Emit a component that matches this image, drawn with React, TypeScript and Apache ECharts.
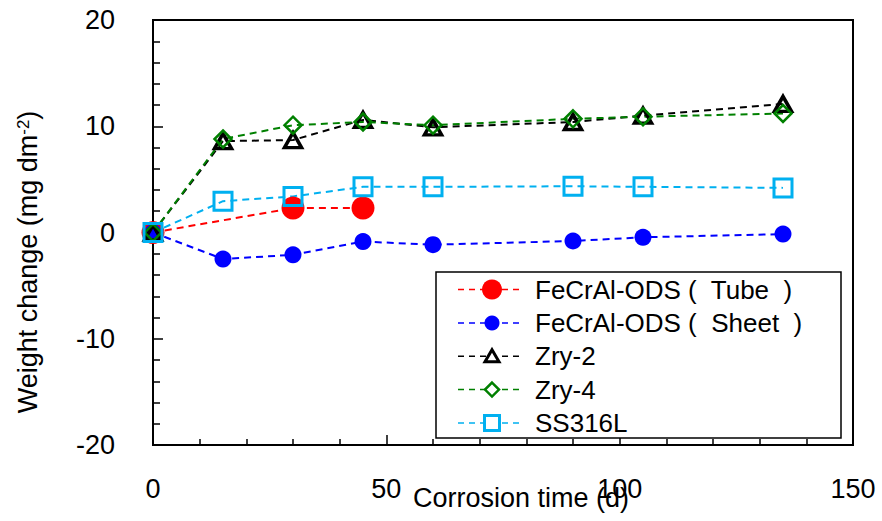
import React, { useEffect, useRef } from "react";
import * as echarts from "echarts";

const seriesNames = [
  "FeCrAl-ODS (  Tube  )",
  "FeCrAl-ODS (  Sheet  )",
  "Zry-2",
  "Zry-4",
  "SS316L",
];
const tubeDays = [0, 30, 45];
const tubeValues = [0, 2.3, 2.3];
const days = [0, 15, 30, 45, 60, 90, 105, 135];
const sheetValues = [0, -2.5, -2.1, -0.85, -1.15, -0.8, -0.45, -0.15];
const zry2Values = [0, 8.6, 8.7, 10.6, 9.9, 10.4, 11.0, 12.1];
const zry4Values = [0, 8.8, 10.1, 10.4, 10.1, 10.7, 10.9, 11.2];
const ss316Values = [0, 2.95, 3.4, 4.3, 4.3, 4.35, 4.3, 4.2];
const xTicks = { min: 0, max: 150, interval: 50 };
const yTicks = { min: -20, max: 20, interval: 10 };

const FONT = "'Liberation Sans', Arial, sans-serif";
const colors = ["#ff0000", "#0000ff", "#000000", "#008000", "#00b0f0"];

function pairs(xs: number[], ys: number[]) {
  return xs.map((x, i) => [x, ys[i]]);
}

export default function App() {
  const ref = useRef<HTMLDivElement>(null);
  useEffect(() => {
    if (!ref.current) return;
    const chart = echarts.init(ref.current, undefined, { renderer: "svg" });
    const dash = [7, 5];
    const lineBase = (c: string) => ({ color: c, width: 2, type: dash });

    // legend drawn with graphic elements
    const legendX = 436;
    const legendY = 272;
    const rowY = [289.5, 323, 356.3, 389.6, 423];
    const mx = 492;
    const legendEls: any[] = [
      {
        type: "rect",
        shape: { x: legendX, y: legendY, width: 405, height: 166 },
        style: { fill: "#fff", stroke: "#000", lineWidth: 1.5 },
        z: 100,
      },
    ];
    rowY.forEach((y, i) => {
      legendEls.push({
        type: "line",
        shape: { x1: 458, y1: y, x2: 521, y2: y },
        style: { stroke: colors[i], lineWidth: 1.5, lineDash: [6, 5] },
        z: 101,
      });
      let marker: any;
      if (i === 0) {
        marker = { type: "circle", shape: { cx: mx, cy: y, r: 10 }, style: { fill: colors[0] } };
      } else if (i === 1) {
        marker = { type: "circle", shape: { cx: mx, cy: y, r: 7.5 }, style: { fill: colors[1] } };
      } else if (i === 2) {
        marker = {
          type: "polygon",
          shape: { points: [[mx - 7, y + 5.5], [mx + 7, y + 5.5], [mx, y - 6.5]] },
          style: { fill: "#fff", stroke: colors[2], lineWidth: 3, lineJoin: "miter" },
        };
      } else if (i === 3) {
        marker = {
          type: "polygon",
          shape: { points: [[mx, y - 7], [mx + 7, y], [mx, y + 7], [mx - 7, y]] },
          style: { fill: "#fff", stroke: colors[3], lineWidth: 2.5 },
        };
      } else {
        marker = {
          type: "rect",
          shape: { x: mx - 7.5, y: y - 7.5, width: 15, height: 15 },
          style: { fill: "#fff", stroke: colors[4], lineWidth: 3 },
        };
      }
      marker.z = 102;
      legendEls.push(marker);
      legendEls.push({
        type: "text",
        x: 535,
        y: y,
        style: {
          text: seriesNames[i],
          font: `26px ${FONT}`,
          fill: "#000",
          align: "left",
          verticalAlign: "middle",
        },
        z: 102,
      });
    });

    const option: any = {
      animation: false,
      grid: {
        left: 153,
        right: 29,
        top: 20,
        bottom: 76,
        show: true,
        borderColor: "#000",
        borderWidth: 2,
        backgroundColor: "transparent",
        containLabel: false,
        outerBoundsMode: "none",
      },
      xAxis: {
        type: "value",
        min: xTicks.min,
        max: xTicks.max,
        interval: xTicks.interval,
        axisLine: { show: true, onZero: false, lineStyle: { color: "#000", width: 2 } },
        axisTick: { show: true, inside: true, length: 10, lineStyle: { color: "#000", width: 1.5 } },
        minorTick: { show: true, splitNumber: 5, length: 6, lineStyle: { color: "#000", width: 1.5 } },
        splitLine: { show: false },
        axisLabel: { color: "#000", fontSize: 27, fontFamily: FONT, margin: 30 },
      },
      yAxis: {
        type: "value",
        min: yTicks.min,
        max: yTicks.max,
        interval: yTicks.interval,
        axisLine: { show: true, onZero: false, lineStyle: { color: "#000", width: 2 } },
        axisTick: { show: true, inside: true, length: 10, lineStyle: { color: "#000", width: 1.5 } },
        minorTick: { show: true, splitNumber: 5, length: 7, lineStyle: { color: "#000", width: 1.5 } },
        splitLine: { show: false },
        axisLabel: { color: "#000", fontSize: 27, fontFamily: FONT, margin: 38 },
      },
      graphic: [
        {
          type: "text",
          x: 521,
          y: 498,
          style: {
            text: "Corrosion time (d)",
            font: `27px ${FONT}`,
            fill: "#000",
            align: "center",
            verticalAlign: "middle",
          },
        },
        {
          type: "text",
          x: 28,
          y: 262,
          rotation: Math.PI / 2,
          style: {
            text: "Weight change (mg dm{sup|-2})",
            font: `27px ${FONT}`,
            fill: "#000",
            align: "center",
            verticalAlign: "middle",
            rich: {
              sup: { fontSize: 17, fontFamily: FONT, verticalAlign: "top", fill: "#000" },
            },
          },
        },
        ...legendEls,
      ],
      series: [
        {
          name: seriesNames[0],
          type: "line",
          data: pairs(tubeDays, tubeValues),
          symbol: "circle",
          symbolSize: 23,
          lineStyle: lineBase(colors[0]),
          itemStyle: { color: colors[0] },
        },
        {
          name: seriesNames[1],
          type: "line",
          data: pairs(days, sheetValues),
          symbol: "circle",
          symbolSize: 17,
          lineStyle: lineBase(colors[1]),
          itemStyle: { color: colors[1] },
        },
        {
          name: seriesNames[2],
          type: "line",
          data: pairs(days, zry2Values),
          symbol: "triangle",
          symbolSize: [17, 15],
          lineStyle: lineBase(colors[2]),
          itemStyle: { color: "rgba(255,255,255,0)", borderColor: colors[2], borderWidth: 3.5 },
        },
        {
          name: seriesNames[3],
          type: "line",
          data: pairs(days, zry4Values),
          symbol: "diamond",
          symbolSize: 17,
          lineStyle: lineBase(colors[3]),
          itemStyle: { color: "rgba(255,255,255,0)", borderColor: colors[3], borderWidth: 2.5 },
        },
        {
          name: seriesNames[4],
          type: "line",
          data: pairs(days, ss316Values),
          symbol: "rect",
          symbolSize: 18,
          lineStyle: lineBase(colors[4]),
          itemStyle: { color: "rgba(255,255,255,0)", borderColor: colors[4], borderWidth: 3 },
        },
      ],
    };
    chart.setOption(option);
    return () => chart.dispose();
  }, []);
  return <div ref={ref} style={{ width: 882, height: 521, position: "absolute", left: 0, top: 0 }} />;
}
